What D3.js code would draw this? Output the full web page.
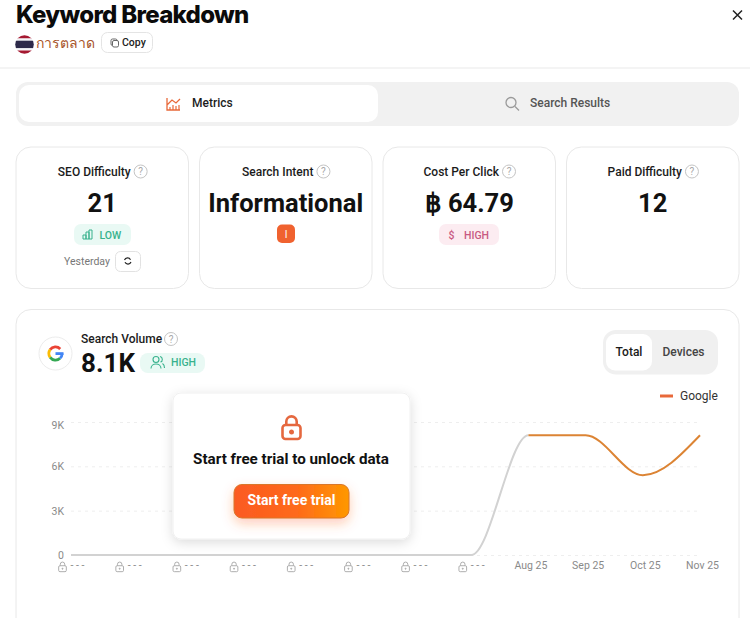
<!DOCTYPE html>
<html lang="en">
<head>
  <meta charset="UTF-8" />
  <title>Keyword Breakdown</title>
  <script src="https://d3js.org/d3.v7.min.js"></script>
  <style>
    html, body { margin: 0; padding: 0; background: #fff; overflow: hidden; }
    svg { display: block; font-family: Roboto, "Noto Sans", sans-serif; }
    .axis .domain { display: none; }
    .axis text { font-family: Roboto, sans-serif; font-size: 10.5px; fill: #8a8a8a; }
    .y-axis line { stroke: #eeeeee; stroke-dasharray: 3 4; }
    .x-axis line { display: none; }
  </style>
</head>
<body>
  <div id="chart"></div>

  <script>
    // chart data
    const months = ["m1", "m2", "m3", "m4", "m5", "m6", "m7", "m8", "Aug 25", "Sep 25", "Oct 25", "Nov 25"];
    const lockedMonths = ["m1", "m2", "m3", "m4", "m5", "m6", "m7", "m8"];
    const volume = [0, 0, 0, 0, 0, 0, 0, 0, 8100, 8100, 5400, 8100];
    const yTicks = [0, 3000, 6000, 9000];

    // metric cards
    const cardTitles = ["SEO Difficulty", "Search Intent", "Cost Per Click", "Paid Difficulty"];
    const cardValues = ["21", "Informational", "\u0E3F 64.79", "12"];

    const width = 750, height = 618;
    const orange = "#e8693a";
    const ink = "#111111";

    const svg = d3.select("#chart").append("svg")
      .attr("width", width)
      .attr("height", height);
    const defs = svg.append("defs");

    // small helpers so the page furniture stays short
    function box(g, x0, y0, x1, y1, r, fill, stroke) {
      return g.append("rect")
        .attr("x", x0).attr("y", y0)
        .attr("width", x1 - x0).attr("height", y1 - y0)
        .attr("rx", r)
        .attr("fill", fill)
        .attr("stroke", stroke || "none");
    }
    function label(g, x, y, str, size, weight, color, anchor) {
      return g.append("text")
        .attr("x", x).attr("y", y)
        .attr("font-size", size)
        .attr("font-weight", weight)
        .attr("fill", color)
        .attr("text-anchor", anchor || "start")
        .text(str);
    }
    function helpIcon(g, cx, cy) {
      g.append("circle").attr("cx", cx).attr("cy", cy).attr("r", 6.5)
        .attr("fill", "none").attr("stroke", "#c4c4c4");
      label(g, cx, cy + 3.5, "?", 10, 400, "#a8a8a8", "middle");
    }
    function lockIcon(g, cx, cy, s, color, sw) {
      const i = g.append("g").attr("transform", `translate(${cx},${cy}) scale(${s})`)
        .attr("fill", "none").attr("stroke", color).attr("stroke-width", sw);
      i.append("rect").attr("x", -4.5).attr("y", -1.5).attr("width", 9).attr("height", 7).attr("rx", 1.5);
      i.append("path").attr("d", "M-2.6,-1.5V-3.2A2.6,2.6 0 0 1 2.6,-3.2V-1.5");
      i.append("circle").attr("cx", 0).attr("cy", 2).attr("r", 0.6).attr("fill", color);
    }

    /********** header **********/
    const header = svg.append("g");
    label(header, 16, 23, "Keyword Breakdown", 24, 800, "#0b0b0b")
      .style("font-family", "Inter, sans-serif")
      .attr("letter-spacing", -0.7);

    // thai flag
    defs.append("clipPath").attr("id", "flagClip")
      .append("circle").attr("cx", 24.5).attr("cy", 44.5).attr("r", 9.3);
    const flagBands = [["#a51931", 35, 3.5], ["#f4f5f8", 38.5, 2.2], ["#2d2a4a", 40.7, 7.6], ["#f4f5f8", 48.3, 2.2], ["#a51931", 50.5, 4]];
    header.append("g").attr("clip-path", "url(#flagClip)")
      .selectAll("rect").data(flagBands).join("rect")
      .attr("x", 15).attr("width", 20)
      .attr("y", d => d[1]).attr("height", d => d[2])
      .attr("fill", d => d[0]);

    label(header, 36, 48, "การตลาด", 14, 500, "#a8552a")
      .style("font-family", "'Noto Sans', 'Noto Sans CJK SC', sans-serif");

    box(header, 101.5, 32.5, 152.5, 52.5, 6, "#fff", "#e4e4e4");
    box(header, 111, 39, 117, 45.5, 1.5, "#fff", "#666");
    box(header, 112.5, 40.5, 118.5, 47, 1.5, "#fff", "#666");
    label(header, 122, 46, "Copy", 10.5, 500, "#222");

    // close button
    header.append("path").attr("d", "M733,10.5L742,19.5M742,10.5L733,19.5")
      .attr("stroke", "#222").attr("stroke-width", 1.5).attr("fill", "none");
    header.append("line").attr("x1", 0).attr("x2", width).attr("y1", 68).attr("y2", 68)
      .attr("stroke", "#e9e9e9").attr("stroke-width", 1.2);

    /********** tabs **********/
    const tabs = svg.append("g");
    box(tabs, 16, 82, 739, 126, 12, "#f1f1f1");
    box(tabs, 19, 85, 378, 122, 10, "#fff");
    tabs.append("path")
      .attr("d", "M167,98V110H180M167,105L172,100L176,103L180,99")
      .attr("fill", "none").attr("stroke", orange).attr("stroke-width", 1.3);
    tabs.append("path")
      .attr("d", "M170,110V107M173,110V105M176,110V106M179,110V105")
      .attr("fill", "none").attr("stroke", orange).attr("stroke-width", 1.2);
    label(tabs, 192, 107, "Metrics", 12, 500, "#1c1c1c");
    tabs.append("circle").attr("cx", 511).attr("cy", 102.5).attr("r", 5)
      .attr("fill", "none").attr("stroke", "#9a9a9a").attr("stroke-width", 1.3);
    tabs.append("line").attr("x1", 515).attr("y1", 106.5).attr("x2", 519).attr("y2", 110.5)
      .attr("stroke", "#9a9a9a").attr("stroke-width", 1.3);
    label(tabs, 530, 107, "Search Results", 12, 500, "#555");

    /********** metric cards **********/
    const cardX = d3.scaleOrdinal().domain(cardTitles).range([16, 199.5, 383, 566.5]);
    const cardWidth = 172.5;
    cardTitles.forEach((title, i) => {
      const g = svg.append("g").attr("transform", `translate(${cardX(title)},0)`);
      box(g, 0, 147, cardWidth, 288.5, 15, "#fff", "#e8e8e8");
      const t = label(g, cardWidth / 2 - 8, 176, title, 12, 500, "#1b1b1b", "middle");
      const w = t.node().getComputedTextLength();
      helpIcon(g, cardWidth / 2 - 8 + w / 2 + 10, 171.5);
      label(g, cardWidth / 2, 212, cardValues[i], 25.5, 700, ink, "middle");
    });

    // badges inside the cards
    const badges = svg.append("g");
    box(badges, 74, 224, 131, 245, 7, "#e9f9f4");
    badges.append("path").attr("d", "M83,239V235H86V239ZM86,239V232H89V239ZM89,239V230H92V239Z")
      .attr("fill", "none").attr("stroke", "#38b28d");
    label(badges, 99.5, 238.5, "LOW", 10.5, 500, "#38b28d");
    label(badges, 64, 265, "Yesterday", 10.5, 400, "#777");
    box(badges, 115.5, 251.5, 140.5, 271.5, 5, "#fff", "#e2e2e2");
    badges.append("path")
      .attr("d", "M124.5,260A3.3,3.3 0 0 1 130.5,259.7M131,262A3.3,3.3 0 0 1 125,262.3")
      .attr("fill", "none").attr("stroke", "#222").attr("stroke-width", 1.2);

    box(badges, 277, 224.5, 295, 243, 5, "#f0622f");
    label(badges, 286, 238, "I", 10, 400, "#fff", "middle");

    box(badges, 439, 224, 499, 245, 7, "#fcecf1");
    label(badges, 451.5, 238.5, "$", 10.5, 500, "#c85a82", "middle");
    label(badges, 464, 238.5, "HIGH", 10.5, 500, "#c85a82");

    /********** search volume card **********/
    const panel = svg.append("g");
    box(panel, 16, 309.5, 739, 640, 15, "#fff", "#e8e8e8");

    // google badge
    panel.append("circle").attr("cx", 55.5).attr("cy", 353.5).attr("r", 16.5)
      .attr("fill", "#fff").attr("stroke", "#ececec");
    const gArc = d3.arc().innerRadius(5.2).outerRadius(8);
    panel.append("g").attr("transform", "translate(55.5,353.5)")
      .selectAll("path")
      .data([
        ["#ea4335", -0.95, 0.8],
        ["#fbbc05", -2.2, -0.95],
        ["#34a853", -3.9, -2.2],
        ["#4285f4", 1.57, 2.39]
      ])
      .join("path")
      .attr("d", d => gArc({ startAngle: d[1], endAngle: d[2] }))
      .attr("fill", d => d[0]);
    box(panel, 55.5, 352.2, 63.5, 355, 0, "#4285f4");

    label(panel, 81, 343, "Search Volume", 12, 500, "#1b1b1b");
    helpIcon(panel, 171, 339);
    label(panel, 81, 372, "8.1K", 26, 700, ink);
    box(panel, 140, 353, 205, 373, 8, "#e9f9f4");
    panel.append("circle").attr("cx", 156).attr("cy", 359.5).attr("r", 3)
      .attr("fill", "none").attr("stroke", "#38b28d").attr("stroke-width", 1.1);
    panel.append("path").attr("d", "M151,368.5C151,362.5 161,362.5 161,368.5M160,356.5C163,357 163,361.5 160.5,362M162.5,363.5C164,364.5 164.5,366 164.5,368")
      .attr("fill", "none").attr("stroke", "#38b28d").attr("stroke-width", 1.1);
    label(panel, 171, 366, "HIGH", 10.5, 500, "#38b28d");

    // total / devices toggle
    box(panel, 603, 330, 718, 374.5, 13, "#f0f0f0");
    box(panel, 606, 334, 652, 370.5, 9, "#fff");
    label(panel, 629, 356, "Total", 12, 500, "#1b1b1b", "middle");
    label(panel, 683.5, 356, "Devices", 12, 500, "#444", "middle");

    // legend
    panel.append("line").attr("x1", 660).attr("x2", 673).attr("y1", 396).attr("y2", 396)
      .attr("stroke", orange).attr("stroke-width", 3);
    label(panel, 680, 400, "Google", 12, 400, "#333");

    /********** line chart **********/
    const x = d3.scalePoint().domain(months).range([71, 700]);
    const y = d3.scaleLinear().domain([0, 9000]).range([555, 422]);

    const plot = svg.append("g");

    const yAxis = plot.append("g").attr("class", "axis y-axis")
      .attr("transform", "translate(71,0)")
      .call(d3.axisLeft(y).tickValues(yTicks).tickSize(-629).tickPadding(7)
        .tickFormat(d => d === 0 ? "0" : d / 1000 + "K"));
    // the top label sits a little under its grid line in the reference
    yAxis.selectAll(".tick").filter(d => d === 9000).select("text").attr("y", 3.5);

    const xAxis = plot.append("g").attr("class", "axis x-axis")
      .attr("transform", "translate(0,555)")
      .call(d3.axisBottom(x).tickSize(0).tickPadding(7)
        .tickFormat(d => lockedMonths.includes(d) ? "- - -" : d));

    // locked months get a padlock in front of the dashes
    xAxis.selectAll(".tick")
      .filter(d => lockedMonths.includes(d))
      .each(function () {
        const t = d3.select(this);
        t.select("text").attr("text-anchor", "start").attr("x", -1);
        lockIcon(t, -9, 12, 0.85, "#a8a8a8", 1.1);
      });
    xAxis.selectAll(".tick")
      .filter(d => !lockedMonths.includes(d))
      .select("text").attr("dx", 2);

    // the curve is grey up to the first visible month, then orange
    const line = d3.line()
      .x((d, i) => x(months[i]))
      .y(d => y(d))
      .curve(d3.curveMonotoneX);

    const splitX = x(months[lockedMonths.length]);
    defs.append("clipPath").attr("id", "lockedPart")
      .append("rect").attr("x", 0).attr("y", 0).attr("width", splitX).attr("height", height);
    defs.append("clipPath").attr("id", "openPart")
      .append("rect").attr("x", splitX).attr("y", 0).attr("width", width - splitX).attr("height", height);

    plot.append("path").datum(volume)
      .attr("d", line)
      .attr("fill", "none")
      .attr("stroke", "#d2d2d2")
      .attr("stroke-width", 2)
      .attr("clip-path", "url(#lockedPart)");
    plot.append("path").datum(volume)
      .attr("d", line)
      .attr("fill", "none")
      .attr("stroke", "#dc8434")
      .attr("stroke-width", 2)
      .attr("clip-path", "url(#openPart)");

    /********** unlock overlay **********/
    const blur = defs.append("filter").attr("id", "cardShadow")
      .attr("x", "-20%").attr("y", "-20%").attr("width", "140%").attr("height", "150%");
    blur.append("feDropShadow").attr("dx", 0).attr("dy", 3).attr("stdDeviation", 6)
      .attr("flood-color", "#000").attr("flood-opacity", 0.14);
    const glow = defs.append("filter").attr("id", "buttonGlow")
      .attr("x", "-20%").attr("y", "-40%").attr("width", "140%").attr("height", "200%");
    glow.append("feDropShadow").attr("dx", 0).attr("dy", 5).attr("stdDeviation", 6)
      .attr("flood-color", "#ff5a1f").attr("flood-opacity", 0.3);
    const grad = defs.append("linearGradient").attr("id", "buttonFill");
    grad.append("stop").attr("offset", "0%").attr("stop-color", "#fb5a22");
    grad.append("stop").attr("offset", "55%").attr("stop-color", "#fe6a1a");
    grad.append("stop").attr("offset", "100%").attr("stop-color", "#ff9800");

    const overlay = svg.append("g");
    box(overlay, 173, 393, 410, 539, 8, "#fff", "#f0f0f0").attr("filter", "url(#cardShadow)");
    lockIcon(overlay, 291.5, 428, 2, "#e5683f", 1.3);
    label(overlay, 291, 464, "Start free trial to unlock data", 15.2, 700, ink, "middle");
    box(overlay, 234, 484.5, 349, 518, 8, "url(#buttonFill)", "#d9772a").attr("filter", "url(#buttonGlow)");
    label(overlay, 291.5, 505, "Start free trial", 14, 700, "#fff", "middle");
  </script>
</body>
</html>
